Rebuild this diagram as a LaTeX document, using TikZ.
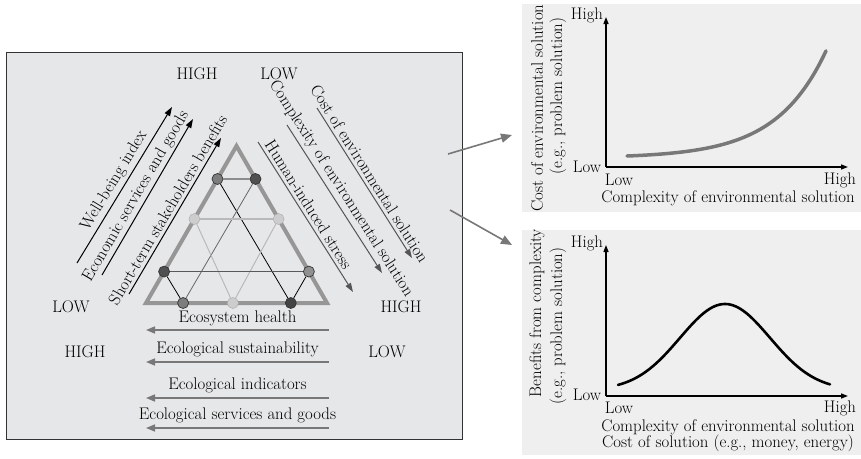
\documentclass[tikz,border=0pt]{standalone}
\usepackage{fontspec}
\usetikzlibrary{arrows.meta, calc, positioning}
\definecolor{frameFill}{RGB}{230,231,232}
\definecolor{panelFill}{RGB}{239,239,239}
\definecolor{triGray}{RGB}{150,150,150}
\definecolor{arrowGray}{RGB}{120,120,120}
\definecolor{stressGray}{RGB}{85,85,85}
\definecolor{dotMid}{RGB}{125,125,125}
\definecolor{dotDark}{RGB}{80,80,80}
\definecolor{dotLight}{RGB}{205,205,205}

\begin{document}
\begin{tikzpicture}[x=1pt, y=-1pt, font=\fontsize{16.8}{19}\selectfont,
    dot/.style={circle, draw=black!80, line width=0.7pt, minimum size=11pt, inner sep=0pt},
    lightdot/.style={circle, draw=dotLight!85!black, fill=dotLight, line width=0.5pt, minimum size=11pt, inner sep=0pt},
    alongText/.style={sloped, above, inner sep=3pt, text=black},
    blackArrow/.style={line width=1pt, -{Triangle[length=9pt, width=6pt]}},
    grayArrow/.style={stressGray, line width=1pt, -{Triangle[length=9pt, width=6pt]}},
    healthArrow/.style={arrowGray, line width=1.6pt, -{Triangle[length=9pt, width=7pt]}},
    healthText/.style={midway, above=1pt, text=black},
    linkArrow/.style={arrowGray, line width=1.6pt, -{Triangle[length=11pt, width=9pt]}},
    axis/.style={line width=1.3pt, -{Triangle[length=7pt, width=5pt]}},
    plain/.style={inner sep=0pt}]
    \useasboundingbox (0,0) rectangle (861,458);

    % 1. MARCO IZQUIERDO Y PANELES
    \filldraw[fill=frameFill, draw=black!80, line width=1pt] (6,52) rectangle (462,439);
    \fill[panelFill] (522,4) rectangle (861,212);
    \fill[panelFill] (522,230) rectangle (861,455);

    % 2. TRIANGULO
    \coordinate (apex) at (236.5,146);
    \coordinate (baseL) at (146,303);
    \coordinate (baseR) at (327,303);
    \draw[triGray, line width=4pt, line join=miter] (apex) -- (baseL) -- (baseR) -- cycle;

    % Puntos sobre los lados
    \node[dot, fill=dotMid]  (upL)  at ($(baseL)!0.79!(apex)$) {};
    \node[dot, fill=dotDark] (upR)  at ($(baseR)!0.79!(apex)$) {};
    \node[lightdot]          (midL) at ($(baseL)!0.535!(apex)$) {};
    \node[lightdot]          (midR) at ($(baseR)!0.535!(apex)$) {};
    \node[dot, fill=dotDark] (lowL) at ($(baseL)!0.2!(apex)$) {};
    \node[dot, fill=dotMid!85!white] (lowR) at ($(baseR)!0.2!(apex)$) {};
    \node[dot, fill=dotMid]  (botL) at ($(baseL)!0.205!(baseR)$) {};
    \node[lightdot]          (botM) at ($(baseL)!0.48!(baseR)$) {};
    \node[dot, fill=dotDark!85!black] (botR) at ($(baseL)!0.8!(baseR)$) {};

    % Lineas interiores
    \draw[black!45, line width=1.5pt] (upL) -- (upR);
    \draw[black, line width=0.8pt] (upL) -- (botR);
    \draw[black!60, line width=0.8pt] (upR) -- (botL);
    \draw[dotLight!90!black, line width=1.2pt] (midL) -- (midR);
    \draw[dotLight!90!black, line width=1pt] (midL) -- (botM);
    \draw[dotLight!90!black, line width=1pt] (midR) -- (botM);
    \draw[black!65, line width=1.3pt] (lowL) -- (lowR);
    \draw[black, line width=0.8pt] (lowL) -- (botL);
    \draw[black, line width=0.8pt] (lowR) -- (botR);

    % 3. FLECHAS DIAGONALES IZQUIERDAS
    \coordinate (wellA) at (77,263);   \coordinate (wellB) at (172,107);
    \coordinate (econA) at (102,275);  \coordinate (econB) at (193,119);
    \coordinate (shortA) at (129,294); \coordinate (shortB) at (221,138);
    \draw[blackArrow] (wellA) -- (wellB) node[alongText, pos=0.49] {Well-being index};
    \draw[blackArrow] (econA) -- (econB) node[alongText, pos=0.47, inner sep=2pt] {Economic services and goods};
    \draw[blackArrow] (shortA) -- (shortB) node[alongText, pos=0.51] {Short-term stakeholders benefits};

    % 4. FLECHAS DIAGONALES DERECHAS
    \coordinate (humanA) at (258,142); \coordinate (humanB) at (353,292);
    \coordinate (complA) at (287,125); \coordinate (complB) at (382,273);
    \coordinate (costA) at (317,108);  \coordinate (costB) at (412,258);
    \draw[grayArrow] (humanA) -- (humanB) node[alongText, pos=0.45] {Human-induced stress};
    \draw[grayArrow] (complA) -- (complB) node[alongText, pos=0.47] {Complexity of environmental solution};
    \draw[grayArrow] (costA) -- (costB) node[alongText, pos=0.47] {Cost of environmental solution};

    % 5. ETIQUETAS HIGH / LOW
    \node[plain] (highTop) at (197,74) {HIGH};
    \node[plain] (lowTop) at (279,74) {LOW};
    \node[plain] (lowLeft) at (71,307) {LOW};
    \node[plain] (highRight) at (401,307) {HIGH};
    \node[plain] (highLeft) at (85,352) {HIGH};
    \node[plain] (lowRight) at (387,352) {LOW};

    % 6. FLECHAS INFERIORES
    \coordinate (healthA) at (329,330);  \coordinate (healthB) at (146,330);
    \coordinate (sustA) at (329,362);    \coordinate (sustB) at (146,362);
    \coordinate (indicA) at (329,398);   \coordinate (indicB) at (146,398);
    \coordinate (servA) at (329,428);    \coordinate (servB) at (146,428);
    \draw[healthArrow] (healthA) -- (healthB) node[healthText, above=0pt] {Ecosystem health};
    \draw[healthArrow] (sustA) -- (sustB) node[healthText] {Ecological sustainability};
    \draw[healthArrow] (indicA) -- (indicB) node[healthText] {Ecological indicators};
    \draw[healthArrow] (servA) -- (servB) node[healthText] {Ecological services and goods};

    % 7. FLECHAS HACIA LOS PANELES
    \coordinate (linkUpA) at (448,154);  \coordinate (linkUpB) at (512,135);
    \coordinate (linkDnA) at (450,210);  \coordinate (linkDnB) at (512,245);
    \draw[linkArrow] (linkUpA) -- (linkUpB);
    \draw[linkArrow] (linkDnA) -- (linkDnB);

    % 8. PANEL SUPERIOR: COSTO
    \coordinate (costO) at (606,167);
    \coordinate (costY) at (606,17);
    \coordinate (costX) at (848,167);
    \draw[axis] (costO) -- (costY);
    \draw[axis] (costO) -- (costX);
    \draw[arrowGray, line width=3.5pt, line cap=round]
        plot[domain=627:826, samples=80] (\x, {156-2*(exp(0.02*(\x-627))-1)});
    \node[plain] (costHighY) at (587,15) {High};
    \node[plain] (costLowY) at (587,167) {Low};
    \node[plain] (costLowX) at (619,180) {Low};
    \node[plain] (costHighX) at (840,180) {High};
    \node[plain] (costXlabel) at (728,198) {Complexity of environmental solution};
    \node[plain, rotate=90] (costYlabel) at (537,108) {Cost of environmental solution};
    \node[plain, rotate=90] (costYsub) at (558,96) {(e.g., problem solution)};

    % 9. PANEL INFERIOR: BENEFICIOS
    \coordinate (benO) at (606,396);
    \coordinate (benY) at (606,245);
    \coordinate (benX) at (848,396);
    \draw[axis] (benO) -- (benY);
    \draw[axis] (benO) -- (benX);
    \draw[black, line width=2.6pt, line cap=round]
        plot[domain=618:830, samples=80] (\x, {390-86*exp(-((\x-725)/45)^2/2)});
    \node[plain] (benHighY) at (587,243) {High};
    \node[plain] (benLowY) at (587,395) {Low};
    \node[plain] (benLowX) at (619,408) {Low};
    \node[plain] (benHighX) at (840,408) {High};
    \node[plain] (benXlabel) at (728,427) {Complexity of environmental solution};
    \node[plain] (benXsub) at (728,443) {Cost of solution (e.g., money, energy)};
    \node[plain, rotate=90] (benYlabel) at (537,313) {Benefits from complexity};
    \node[plain, rotate=90] (benYsub) at (558,326) {(e.g., problem solution)};
\end{tikzpicture}
\end{document}
